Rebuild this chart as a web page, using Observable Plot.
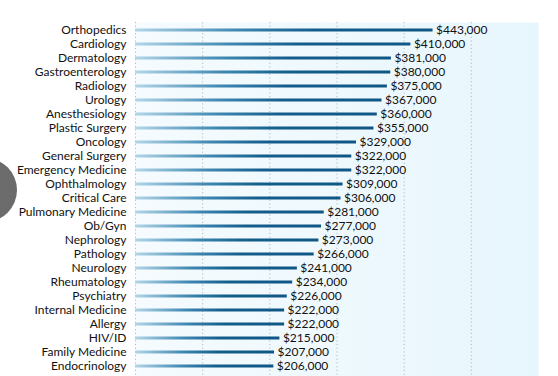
<!DOCTYPE html>
<html>
<head>
<meta charset="utf-8">
<script src="https://cdn.jsdelivr.net/npm/d3@7"></script>
<script src="https://cdn.jsdelivr.net/npm/@observablehq/plot@0.6"></script>
<style>
  html, body { margin: 0; padding: 0; background: #fff; overflow: hidden; width: 558px; height: 376px; }
  #wrap { position: relative; width: 558px; height: 376px; overflow: hidden; }
  #blob { position: absolute; left: -47px; top: 158px; width: 64px; height: 64px; border-radius: 50%;
          background: radial-gradient(circle, #6f6f6f 0%, #6a6a6a 85%, #9a9a9a 100%); }
  #chart { position: absolute; left: 0; top: 0; }
</style>
</head>
<body>
<div id="wrap"><div id="chart"></div><div id="blob"></div></div>
<script>
const specialties = ["Orthopedics","Cardiology","Dermatology","Gastroenterology","Radiology","Urology","Anesthesiology","Plastic Surgery","Oncology","General Surgery","Emergency Medicine","Ophthalmology","Critical Care","Pulmonary Medicine","Ob/Gyn","Nephrology","Pathology","Neurology","Rheumatology","Psychiatry","Internal Medicine","Allergy","HIV/ID","Family Medicine","Endocrinology"];
const salaries = [443000,410000,381000,380000,375000,367000,360000,355000,329000,322000,322000,309000,306000,281000,277000,273000,266000,241000,234000,226000,222000,222000,215000,207000,206000];
const gridTicks = [0,100000,200000,300000,400000,500000];

const data = specialties.map((s, i) => ({specialty: s, salary: salaries[i]}));
const fmt = d3.format(",");

const plot = Plot.plot({
  width: 558,
  height: 392,
  marginLeft: 135,
  marginRight: 20,
  marginTop: 22,
  marginBottom: 0,
  style: {fontFamily: "Lato, 'Open Sans', sans-serif", fontSize: "12px", color: "#111", background: "transparent"},
  x: {domain: [0, 600000], axis: null},
  y: {domain: specialties, range: [23, 23 + 25 * 14], padding: 0, label: null, tickSize: 0, tickPadding: 9},
  marks: [
    Plot.frame({fill: "url(#bgGrad)", stroke: "none"}),
    Plot.ruleX(gridTicks, {stroke: "#b8b8b8", strokeDasharray: "1.2,2.5", strokeWidth: 1}),
    Plot.barX(data, {x: "salary", y: "specialty", fill: "url(#barGrad)", insetTop: 5.5, insetBottom: 5.5}),
    Plot.text(data, {x: "salary", y: "specialty", text: d => "$" + fmt(d.salary), textAnchor: "start", dx: 3, fill: "#111", fontSize: 12})
  ]
});

const ns = "http://www.w3.org/2000/svg";
const defs = document.createElementNS(ns, "defs");
function grad(id, stops) {
  const g = document.createElementNS(ns, "linearGradient");
  g.setAttribute("id", id);
  g.setAttribute("x1", "0"); g.setAttribute("x2", "1"); g.setAttribute("y1", "0"); g.setAttribute("y2", "0");
  for (const [o, c] of stops) {
    const s = document.createElementNS(ns, "stop");
    s.setAttribute("offset", o); s.setAttribute("stop-color", c);
    g.appendChild(s);
  }
  defs.appendChild(g);
}
grad("barGrad", [["0", "#b3d6e8"], ["0.35", "#3d86b0"], ["0.6", "#135d8b"], ["1", "#0f5685"]]);
grad("bgGrad", [["0", "#f5fbfe"], ["1", "#e7f6fd"]]);
plot.insertBefore(defs, plot.firstChild);
document.getElementById("chart").appendChild(plot);
</script>
</body>
</html>
